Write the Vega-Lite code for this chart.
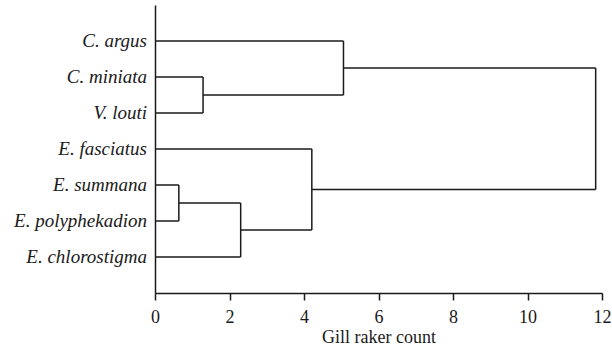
{
  "$schema": "https://vega.github.io/schema/vega-lite/v6.json",
  "autosize": {"type": "none"},
  "padding": {"left": 155, "top": 5, "right": 10, "bottom": 59},
  "width": 447,
  "height": 288,
  "background": "white",
  "config": {
    "view": {"stroke": null},
    "font": "Times New Roman"
  },
  "layer": [
    {
      "data": {"values": [
        {"x": 0, "x2": 5.06, "y": 1, "y2": 1},
        {"x": 0, "x2": 1.29, "y": 2, "y2": 2},
        {"x": 0, "x2": 1.29, "y": 3, "y2": 3},
        {"x": 1.29, "x2": 1.29, "y": 2, "y2": 3},
        {"x": 1.29, "x2": 5.06, "y": 2.5, "y2": 2.5},
        {"x": 5.06, "x2": 5.06, "y": 1, "y2": 2.5},
        {"x": 5.06, "x2": 11.83, "y": 1.75, "y2": 1.75},
        {"x": 0, "x2": 4.21, "y": 4, "y2": 4},
        {"x": 0, "x2": 0.64, "y": 5, "y2": 5},
        {"x": 0, "x2": 0.64, "y": 6, "y2": 6},
        {"x": 0.64, "x2": 0.64, "y": 5, "y2": 6},
        {"x": 0.64, "x2": 2.3, "y": 5.5, "y2": 5.5},
        {"x": 0, "x2": 2.3, "y": 7, "y2": 7},
        {"x": 2.3, "x2": 2.3, "y": 5.5, "y2": 7},
        {"x": 2.3, "x2": 4.21, "y": 6.25, "y2": 6.25},
        {"x": 4.21, "x2": 4.21, "y": 4, "y2": 6.25},
        {"x": 4.21, "x2": 11.83, "y": 5.125, "y2": 5.125},
        {"x": 11.83, "x2": 11.83, "y": 1.75, "y2": 5.125}
      ]},
      "mark": {"type": "rule", "color": "#1a1a1a", "strokeWidth": 1.5},
      "encoding": {
        "x": {"field": "x", "type": "quantitative",
          "scale": {"domain": [0, 12], "nice": false, "zero": false},
          "axis": {"values": [0, 2, 4, 6, 8, 10, 12], "grid": false, "domainColor": "#1a1a1a", "domainWidth": 1.5,
            "tickColor": "#1a1a1a", "tickWidth": 1.5, "tickSize": 7, "labelFontSize": 18, "labelColor": "#1a1a1a",
            "labelFont": "Times New Roman", "titleFont": "Times New Roman",
            "labelPadding": 8, "title": "Gill raker count", "titleFontSize": 18, "titleFontWeight": "normal",
            "titleColor": "#1a1a1a", "titlePadding": 2, "labelFlush": false}},
        "x2": {"field": "x2"},
        "y": {"field": "y", "type": "quantitative",
          "scale": {"domain": [0, 8], "reverse": true, "nice": false, "zero": false},
          "axis": {"ticks": false, "labels": false, "grid": false, "title": null, "domainColor": "#1a1a1a", "domainWidth": 1.5}},
        "y2": {"field": "y2"}
      }
    },
    {
      "data": {"values": [
        {"species": "C. argus", "rank": 1},
        {"species": "C. miniata", "rank": 2},
        {"species": "V. louti", "rank": 3},
        {"species": "E. fasciatus", "rank": 4},
        {"species": "E. summana", "rank": 5},
        {"species": "E. polyphekadion", "rank": 6},
        {"species": "E. chlorostigma", "rank": 7}
      ]},
      "mark": {"type": "text", "align": "right", "baseline": "middle", "dx": -8, "fontSize": 19, "fontStyle": "italic", "color": "#1a1a1a", "font": "Times New Roman"},
      "encoding": {
        "x": {"datum": 0, "type": "quantitative"},
        "y": {"field": "rank", "type": "quantitative"},
        "text": {"field": "species"}
      }
    }
  ]
}
